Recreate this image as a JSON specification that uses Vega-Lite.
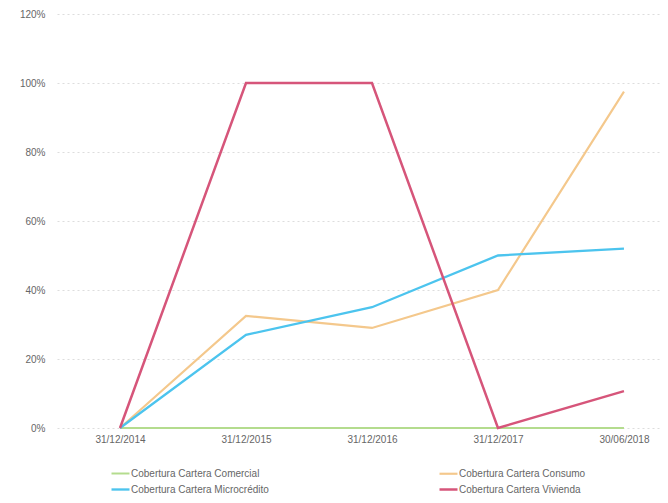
{
  "$schema": "https://vega.github.io/schema/vega-lite/v6.json",
  "width": 603,
  "height": 414,
  "autosize": {"type": "none"},
  "padding": {"left": 57, "top": 14, "right": 8, "bottom": 75},
  "background": "white",
  "config": {
    "view": {"stroke": null},
    "font": "Liberation Sans",
    "axis": {"labelColor": "#666666", "labelFont": "Liberation Sans", "labelFontSize": 10, "domain": false, "ticks": false},
    "legend": {"labelColor": "#666666", "labelFontSize": 10, "labelFont": "Liberation Sans"}
  },
  "data": {
    "values": [
      {"orden": 0, "fecha": "31/12/2014", "serie": "Cobertura Cartera Comercial", "valor": 0.0},
      {"orden": 1, "fecha": "31/12/2015", "serie": "Cobertura Cartera Comercial", "valor": 0.0},
      {"orden": 2, "fecha": "31/12/2016", "serie": "Cobertura Cartera Comercial", "valor": 0.0},
      {"orden": 3, "fecha": "31/12/2017", "serie": "Cobertura Cartera Comercial", "valor": 0.0},
      {"orden": 4, "fecha": "30/06/2018", "serie": "Cobertura Cartera Comercial", "valor": 0.0},
      {"orden": 0, "fecha": "31/12/2014", "serie": "Cobertura Cartera Consumo", "valor": 0.0},
      {"orden": 1, "fecha": "31/12/2015", "serie": "Cobertura Cartera Consumo", "valor": 0.325},
      {"orden": 2, "fecha": "31/12/2016", "serie": "Cobertura Cartera Consumo", "valor": 0.29},
      {"orden": 3, "fecha": "31/12/2017", "serie": "Cobertura Cartera Consumo", "valor": 0.40},
      {"orden": 4, "fecha": "30/06/2018", "serie": "Cobertura Cartera Consumo", "valor": 0.975},
      {"orden": 0, "fecha": "31/12/2014", "serie": "Cobertura Cartera Microcrédito", "valor": 0.0},
      {"orden": 1, "fecha": "31/12/2015", "serie": "Cobertura Cartera Microcrédito", "valor": 0.27},
      {"orden": 2, "fecha": "31/12/2016", "serie": "Cobertura Cartera Microcrédito", "valor": 0.35},
      {"orden": 3, "fecha": "31/12/2017", "serie": "Cobertura Cartera Microcrédito", "valor": 0.50},
      {"orden": 4, "fecha": "30/06/2018", "serie": "Cobertura Cartera Microcrédito", "valor": 0.52},
      {"orden": 0, "fecha": "31/12/2014", "serie": "Cobertura Cartera Vivienda", "valor": 0.0},
      {"orden": 1, "fecha": "31/12/2015", "serie": "Cobertura Cartera Vivienda", "valor": 1.0},
      {"orden": 2, "fecha": "31/12/2016", "serie": "Cobertura Cartera Vivienda", "valor": 1.0},
      {"orden": 3, "fecha": "31/12/2017", "serie": "Cobertura Cartera Vivienda", "valor": 0.0},
      {"orden": 4, "fecha": "30/06/2018", "serie": "Cobertura Cartera Vivienda", "valor": 0.107}
    ]
  },
  "mark": {"type": "line", "strokeCap": "butt"},
  "encoding": {
    "x": {
      "field": "orden", "type": "quantitative", "title": null,
      "scale": {"domain": [-0.5, 4.286], "nice": false, "zero": false},
      "axis": {"values": [0, 1, 2, 3, 4], "grid": false, "labelPadding": 6, "labelFlush": false, "labelOverlap": false,
        "labelExpr": "['31/12/2014','31/12/2015','31/12/2016','31/12/2017','30/06/2018'][datum.value]"}
    },
    "y": {
      "field": "valor", "type": "quantitative", "title": null,
      "scale": {"domain": [0, 1.2], "nice": false},
      "axis": {"values": [0, 0.2, 0.4, 0.6, 0.8, 1.0, 1.2], "format": ".0%", "labelPadding": 12, "gridColor": "#dddddd", "gridDash": [2, 3], "gridWidth": 1}
    },
    "color": {
      "field": "serie", "type": "nominal", "title": null,
      "scale": {"domain": ["Cobertura Cartera Comercial", "Cobertura Cartera Consumo", "Cobertura Cartera Microcrédito", "Cobertura Cartera Vivienda"], "range": ["#b4dc8e", "#f4c88c", "#4cc4ee", "#d6557a"]},
      "legend": {"orient": "none", "legendX": 53, "legendY": 449, "direction": "horizontal", "columns": 2, "columnPadding": 165, "rowPadding": 0, "symbolType": "stroke", "symbolSize": 324, "labelOffset": 0}
    },
    "strokeWidth": {
      "field": "serie", "type": "nominal",
      "scale": {"domain": ["Cobertura Cartera Comercial", "Cobertura Cartera Consumo", "Cobertura Cartera Microcrédito", "Cobertura Cartera Vivienda"], "range": [2, 2.5, 4, 4.5]},
      "legend": null
    }
  }
}
